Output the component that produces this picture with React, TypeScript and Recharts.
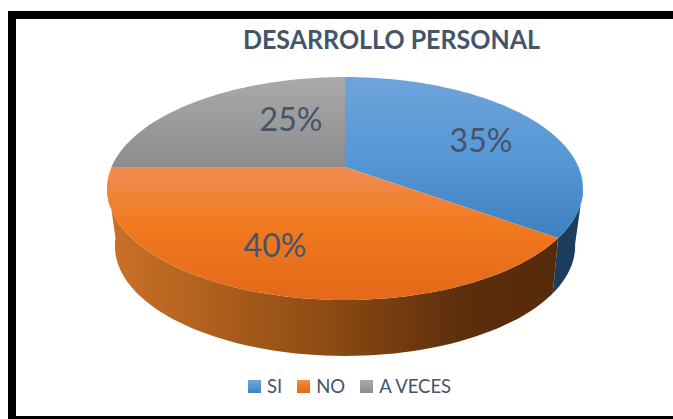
import { PieChart, Pie, Legend } from "recharts";

const categories = ["SI", "NO", "A VECES"];
const values = [35, 40, 25];
const sliceFills = ["url(#topBlue)", "url(#topOrange)", "url(#topGrey)"];
const wallFills = ["#1c3d5e", "url(#wallOrange)", "#6b6b6b"];

const chartData = categories.map((name, i) => ({ name, value: values[i], fill: sliceFills[i] }));

const textColor = "#44546a";
const font = "Lato, sans-serif";

// the pie is tilted: the apex sits above the middle of the ellipse, so the
// angles go through a small perspective projection instead of a plain squash
const topDisc = { rx: 233.5, ry: 107.3, tilt: 0.193, dy: 0 };
const bottomDisc = { rx: 225, ry: 105, tilt: 0.21, dy: 56 };

// label offsets from the apex, the labels were moved by hand in the original
const labelOffsets = [
  { dx: 136, dy: -28 },
  { dx: -70, dy: 77 },
  { dx: -54, dy: -49 },
];

type Disc = typeof topDisc;

function project(cx: number, cy: number, angle: number, disc: Disc) {
  const rad = (angle * Math.PI) / 180;
  const u = Math.cos(rad);
  const v = -Math.sin(rad);
  const w = 1 - disc.tilt * v;
  return { x: cx + (disc.rx * u) / w, y: cy + disc.dy + (disc.ry * v) / w };
}

function arcPoints(cx: number, cy: number, from: number, to: number, disc: Disc) {
  const steps = Math.max(2, Math.ceil(Math.abs(to - from) / 2));
  const pts = [];
  for (let i = 0; i <= steps; i++) {
    pts.push(project(cx, cy, from + ((to - from) * i) / steps, disc));
  }
  return pts;
}

const toPath = (pts: { x: number; y: number }[]) =>
  pts.map((p, i) => `${i === 0 ? "M" : "L"}${p.x.toFixed(1)},${p.y.toFixed(1)}`).join(" ") + " Z";

function TiltedSlice(props: any) {
  const { cx, cy, startAngle, endAngle, fill } = props;
  // only the front of the side wall can be seen
  const wallFrom = Math.min(startAngle, -11);
  const wallTo = Math.max(endAngle, -172);
  const index = sliceFills.indexOf(fill);
  return (
    <g>
      {wallFrom > wallTo && (
        <path
          d={toPath([
            ...arcPoints(cx, cy, wallFrom, wallTo, topDisc),
            ...arcPoints(cx, cy, wallTo, wallFrom, bottomDisc),
          ])}
          fill={wallFills[index]}
        />
      )}
      <path d={toPath([{ x: cx, y: cy }, ...arcPoints(cx, cy, startAngle, endAngle, topDisc)])} fill={fill} />
    </g>
  );
}

function SliceLabel(props: any) {
  const { cx, cy, index, percent } = props;
  const off = labelOffsets[index];
  return (
    <text
      x={cx + off.dx}
      y={cy + off.dy}
      textAnchor="middle"
      dominantBaseline="central"
      fontFamily={font}
      fontSize={32}
      fill={textColor}
    >
      {`${Math.round(percent * 100)}%`}
    </text>
  );
}

function LegendRow({ payload }: any) {
  return (
    <div style={{ display: "flex", alignItems: "center", fontFamily: font, fontSize: 18.5, lineHeight: "22px", color: textColor }}>
      {(payload || []).map((entry: any) => (
        <div key={entry.value} style={{ display: "flex", alignItems: "center", marginRight: 15 }}>
          <svg width={13} height={13} style={{ marginRight: 6 }}>
            <rect width={13} height={13} fill={entry.color} />
          </svg>
          <span>{entry.value}</span>
        </div>
      ))}
    </div>
  );
}

export default function App() {
  return (
    <div style={{ position: "absolute", left: 0, top: 0, width: 673, height: 419, overflow: "hidden", background: "#fff" }}>
      <div
        style={{
          position: "absolute",
          left: 8,
          top: 11,
          width: 720,
          height: 413,
          boxSizing: "border-box",
          border: "8px solid #000",
        }}
      />
      <div style={{ position: "absolute", left: 0, top: 0 }}>
        <PieChart width={673} height={419} margin={{ top: 0, right: 0, bottom: 0, left: 0 }}>
          <defs>
            <linearGradient id="topBlue" x1="0" y1="0" x2="0" y2="1">
              <stop offset="0" stopColor="#6fa3da" />
              <stop offset="0.5" stopColor="#5698d6" />
              <stop offset="1" stopColor="#3f80c0" />
            </linearGradient>
            <linearGradient id="topOrange" x1="0" y1="0" x2="0" y2="1">
              <stop offset="0" stopColor="#ef8d52" />
              <stop offset="0.45" stopColor="#f1791f" />
              <stop offset="1" stopColor="#e4681a" />
            </linearGradient>
            <linearGradient id="topGrey" x1="0" y1="0" x2="0" y2="1">
              <stop offset="0" stopColor="#aaaaaa" />
              <stop offset="1" stopColor="#8c8c8c" />
            </linearGradient>
            <linearGradient id="wallOrange" gradientUnits="userSpaceOnUse" x1="108" y1="0" x2="553" y2="0">
              <stop offset="0" stopColor="#cc7228" />
              <stop offset="0.5" stopColor="#8c4a12" />
              <stop offset="0.8" stopColor="#5c2e0c" />
              <stop offset="1" stopColor="#552a0b" />
            </linearGradient>
          </defs>
          <text
            x={391.5}
            y={49}
            textAnchor="middle"
            fontFamily={font}
            fontWeight={700}
            fontSize={26}
            textLength={297}
            lengthAdjust="spacingAndGlyphs"
            fill={textColor}
          >
            DESARROLLO PERSONAL
          </text>
          <Pie
            data={chartData}
            dataKey="value"
            nameKey="name"
            cx={345}
            cy={167}
            outerRadius={233}
            startAngle={90}
            endAngle={-270}
            stroke="none"
            shape={TiltedSlice}
            label={SliceLabel}
            labelLine={false}
            isAnimationActive={false}
          />
          <Legend
            content={LegendRow}
            itemSorter={null}
            wrapperStyle={{ position: "absolute", left: 248, top: 375, width: 300, bottom: "auto" }}
          />
        </PieChart>
      </div>
    </div>
  );
}
